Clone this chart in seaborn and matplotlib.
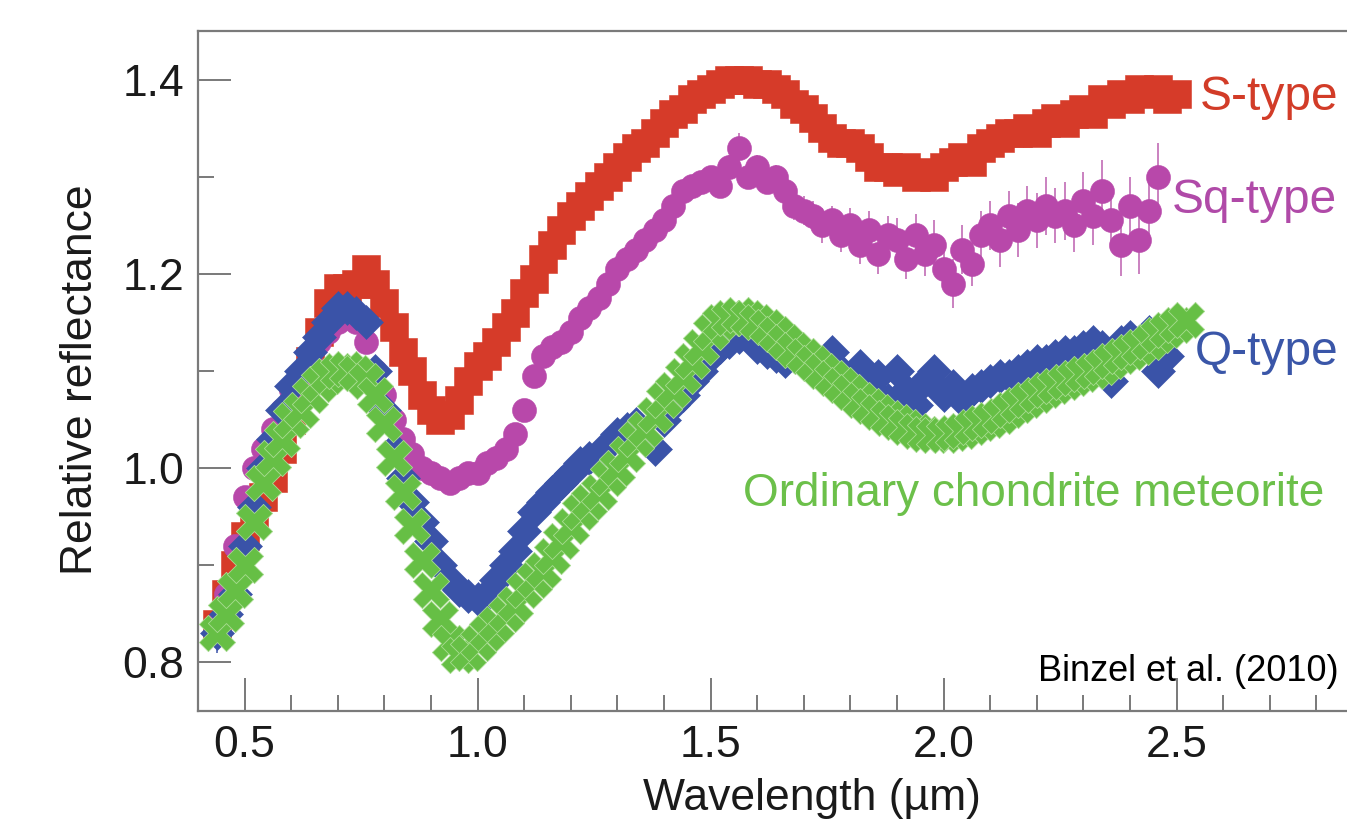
import matplotlib
matplotlib.use("Agg")
import matplotlib.pyplot as plt
import seaborn as sns
import pandas as pd
from matplotlib.ticker import MultipleLocator, FixedLocator

# ---------------- data ----------------
wavelength = [
    0.44, 0.46, 0.48, 0.50, 0.52, 0.54, 0.56, 0.58, 0.60, 0.62,
    0.64, 0.66, 0.68, 0.70, 0.72, 0.74, 0.76, 0.78, 0.80, 0.82,
    0.84, 0.86, 0.88, 0.90, 0.92, 0.94, 0.96, 0.98, 1.00, 1.02,
    1.04, 1.06, 1.08, 1.10, 1.12, 1.14, 1.16, 1.18, 1.20, 1.22,
    1.24, 1.26, 1.28, 1.30, 1.32, 1.34, 1.36, 1.38, 1.40, 1.42,
    1.44, 1.46, 1.48, 1.50, 1.52, 1.54, 1.56, 1.58, 1.60, 1.62,
    1.64, 1.66, 1.68, 1.70, 1.72, 1.74, 1.76, 1.78, 1.80, 1.82,
    1.84, 1.86, 1.88, 1.90, 1.92, 1.94, 1.96, 1.98, 2.00, 2.02,
    2.04, 2.06, 2.08, 2.10, 2.12, 2.14, 2.16, 2.18, 2.20, 2.22,
    2.24, 2.26, 2.28, 2.30, 2.32, 2.34, 2.36, 2.38, 2.40, 2.42,
    2.44, 2.46, 2.48, 2.50, 2.52,
]

s_type = [
    0.84, 0.87, 0.90, 0.93, 0.95, 0.97, 0.99, 1.02, 1.05, 1.08,
    1.11, 1.14, 1.17, 1.185, 1.185, 1.19, 1.205, 1.19, 1.17, 1.145,
    1.12, 1.10, 1.075, 1.06, 1.05, 1.055, 1.07, 1.09, 1.105, 1.115,
    1.13, 1.145, 1.16, 1.18, 1.195, 1.215, 1.23, 1.245, 1.26, 1.27,
    1.28, 1.29, 1.30, 1.31, 1.32, 1.33, 1.335, 1.345, 1.355, 1.365,
    1.37, 1.38, 1.385, 1.39, 1.395, 1.40, 1.40, 1.40, 1.395, 1.395,
    1.39, 1.385, 1.375, 1.37, 1.36, 1.35, 1.34, 1.335, 1.335, 1.33,
    1.32, 1.31, 1.31, 1.305, 1.31, 1.30, 1.305, 1.30, 1.31, 1.315,
    1.32, 1.315, 1.33, 1.335, 1.34, 1.345, 1.345, 1.35, 1.345, 1.355,
    1.36, 1.355, 1.365, 1.37, 1.365, 1.38, 1.375, 1.385, 1.38, 1.39,
    1.385, 1.39, 1.38, 1.385,
]

sq_type = [
    0.84, 0.87, 0.92, 0.97, 1.00, 1.02, 1.04, 1.06, 1.08, 1.09,
    1.11, 1.13, 1.14, 1.15, 1.16, 1.15, 1.13, 1.10, 1.075, 1.05,
    1.03, 1.015, 1.00, 0.995, 0.99, 0.985, 0.99, 0.995, 0.995, 1.005,
    1.01, 1.02, 1.035, 1.06, 1.095, 1.115, 1.125, 1.13, 1.14, 1.155,
    1.165, 1.175, 1.19, 1.205, 1.215, 1.225, 1.235, 1.245, 1.255, 1.27,
    1.285, 1.29, 1.295, 1.30, 1.29, 1.31, 1.33, 1.30, 1.31, 1.295,
    1.30, 1.285, 1.27, 1.265, 1.26, 1.25, 1.255, 1.24, 1.25, 1.23,
    1.245, 1.22, 1.24, 1.235, 1.215, 1.24, 1.22, 1.23, 1.205, 1.19,
    1.225, 1.21, 1.24, 1.25, 1.235, 1.26, 1.245, 1.265, 1.255, 1.27,
    1.26, 1.265, 1.25, 1.275, 1.26, 1.285, 1.255, 1.23, 1.27, 1.235,
    1.265, 1.30,
]

sq_err = [
    0.005, 0.005, 0.005, 0.005, 0.005, 0.005, 0.005, 0.005, 0.005, 0.005,
    0.005, 0.005, 0.005, 0.005, 0.005, 0.005, 0.005, 0.005, 0.005, 0.005,
    0.005, 0.005, 0.005, 0.005, 0.005, 0.005, 0.005, 0.005, 0.005, 0.005,
    0.005, 0.005, 0.005, 0.005, 0.005, 0.005, 0.005, 0.005, 0.005, 0.005,
    0.006, 0.006, 0.006, 0.006, 0.006, 0.006, 0.008, 0.008, 0.008, 0.008,
    0.008, 0.008, 0.010, 0.010, 0.012, 0.012, 0.015, 0.012, 0.012, 0.012,
    0.012, 0.015, 0.015, 0.015, 0.015, 0.018, 0.015, 0.018, 0.018, 0.020,
    0.020, 0.020, 0.020, 0.022, 0.020, 0.022, 0.022, 0.025, 0.022, 0.025,
    0.025, 0.022, 0.025, 0.025, 0.028, 0.025, 0.028, 0.025, 0.028, 0.030,
    0.028, 0.030, 0.028, 0.030, 0.030, 0.032, 0.030, 0.032, 0.030, 0.035,
    0.030, 0.035,
]

q_type = [
    0.83, 0.85, 0.87, 0.92, 0.96, 1.00, 1.03, 1.06, 1.085, 1.10,
    1.12, 1.135, 1.15, 1.165, 1.165, 1.16, 1.15, 1.10, 1.06, 1.02,
    0.99, 0.965, 0.945, 0.925, 0.90, 0.885, 0.875, 0.868, 0.865, 0.870,
    0.885, 0.90, 0.915, 0.935, 0.955, 0.965, 0.975, 0.985, 0.995, 1.005,
    1.01, 1.015, 1.025, 1.035, 1.04, 1.045, 1.03, 1.02, 1.05, 1.065,
    1.075, 1.09, 1.10, 1.115, 1.125, 1.13, 1.135, 1.135, 1.125, 1.12,
    1.115, 1.11, 1.115, 1.12, 1.11, 1.095, 1.12, 1.10, 1.09, 1.105,
    1.085, 1.095, 1.07, 1.10, 1.08, 1.065, 1.09, 1.10, 1.075, 1.085,
    1.07, 1.08, 1.085, 1.09, 1.095, 1.095, 1.10, 1.105, 1.11, 1.11,
    1.115, 1.12, 1.12, 1.125, 1.13, 1.125, 1.09, 1.13, 1.135, 1.13,
    1.14, 1.10, 1.115,
]

q_err = [
    0.020, 0.010, 0.005, 0.005, 0.005, 0.005, 0.005, 0.005, 0.005, 0.005,
    0.005, 0.005, 0.005, 0.005, 0.005, 0.005, 0.005, 0.005, 0.005, 0.005,
    0.005, 0.020, 0.010, 0.010, 0.005, 0.005, 0.005, 0.005, 0.005, 0.005,
    0.005, 0.005, 0.005, 0.005, 0.005, 0.005, 0.005, 0.005, 0.005, 0.005,
    0.005, 0.005, 0.005, 0.005, 0.005, 0.005, 0.005, 0.005, 0.005, 0.005,
    0.005, 0.005, 0.005, 0.005, 0.005, 0.005, 0.005, 0.005, 0.005, 0.008,
    0.008, 0.010, 0.010, 0.012, 0.015, 0.012, 0.015, 0.012, 0.015, 0.012,
    0.015, 0.015, 0.012, 0.015, 0.012, 0.012, 0.010, 0.010, 0.010, 0.010,
    0.008, 0.008, 0.008, 0.008, 0.008, 0.008, 0.008, 0.008, 0.008, 0.008,
    0.008, 0.008, 0.008, 0.008, 0.008, 0.008, 0.010, 0.008, 0.008, 0.008,
    0.010, 0.010, 0.010,
]

chondrite = [
    0.83, 0.85, 0.875, 0.90, 0.945, 0.985, 1.01, 1.03, 1.05, 1.06,
    1.075, 1.087, 1.095, 1.10, 1.102, 1.098, 1.09, 1.075, 1.045, 1.01,
    0.975, 0.94, 0.905, 0.875, 0.845, 0.82, 0.808, 0.81, 0.82, 0.83,
    0.84, 0.85, 0.86, 0.875, 0.885, 0.895, 0.91, 0.925, 0.94, 0.955,
    0.965, 0.975, 0.99, 1.00, 1.015, 1.03, 1.04, 1.055, 1.07, 1.08,
    1.095, 1.11, 1.125, 1.14, 1.15, 1.155, 1.158, 1.155, 1.15, 1.145,
    1.138, 1.13, 1.122, 1.115, 1.108, 1.10, 1.093, 1.086, 1.078, 1.07,
    1.064, 1.058, 1.052, 1.047, 1.042, 1.038, 1.035, 1.034, 1.034, 1.036,
    1.038, 1.042, 1.046, 1.05, 1.054, 1.06, 1.065, 1.07, 1.075, 1.08,
    1.085, 1.089, 1.093, 1.097, 1.10, 1.104, 1.11, 1.115, 1.12, 1.125,
    1.13, 1.137, 1.142, 1.147, 1.152,
]

x_ticks = [0.5, 1.0, 1.5, 2.0, 2.5]
x_tick_labels = ["0.5", "1.0", "1.5", "2.0", "2.5"]
y_ticks = [0.8, 1.0, 1.2, 1.4]
y_tick_labels = ["0.8", "1.0", "1.2", "1.4"]

series_names = ["S-type", "Sq-type", "Q-type", "Ordinary chondrite meteorite"]

# ---------------- style ----------------
sns.set_theme(style="white")
plt.rcParams["font.family"] = ["Liberation Sans", "DejaVu Sans"]

C_RED = "#d63b29"
C_MAG = "#b848aa"
C_BLUE = "#3a53a8"
C_GREEN = "#66bf45"

fig = plt.figure(figsize=(13.47, 8.33), dpi=100)
ax = fig.add_axes([198 / 1347, 1 - 711 / 833, 1165 / 1347, 680 / 833])

df_s = pd.DataFrame({"wl": wavelength[:len(s_type)], "r": s_type})
df_sq = pd.DataFrame({"wl": wavelength[:len(sq_type)], "r": sq_type, "e": sq_err})
df_q = pd.DataFrame({"wl": wavelength[:len(q_type)], "r": q_type, "e": q_err})
df_oc = pd.DataFrame({"wl": wavelength[:len(chondrite)], "r": chondrite})

# S-type: squares
sns.scatterplot(data=df_s, x="wl", y="r", marker="s", s=400, color=C_RED,
                edgecolor=C_RED, linewidth=0.4, ax=ax, zorder=2, legend=False)
# Sq-type: circles with error bars
ax.errorbar(df_sq["wl"], df_sq["r"], yerr=df_sq["e"], fmt="none",
            ecolor="#c677bb", elinewidth=1.3, capsize=0, zorder=2.5)
sns.scatterplot(data=df_sq, x="wl", y="r", marker="o", s=300, color=C_MAG,
                edgecolor=C_MAG, linewidth=0.4, ax=ax, zorder=3, legend=False)
# Q-type: diamonds with error bars
ax.errorbar(df_q["wl"], df_q["r"], yerr=df_q["e"], fmt="none",
            ecolor="#5b6fb8", elinewidth=1.3, capsize=0, zorder=3.5)
sns.scatterplot(data=df_q, x="wl", y="r", marker="D", s=300, color=C_BLUE,
                edgecolor=C_BLUE, linewidth=0.4, ax=ax, zorder=4, legend=False)
# Ordinary chondrite: X markers
sns.scatterplot(data=df_oc, x="wl", y="r", marker="X", s=680, color=C_GREEN,
                edgecolor="#a9dc92", linewidth=0.6, ax=ax, zorder=5, legend=False)

ax.set_xlim(0.4, 2.9)
ax.set_ylim(0.75, 1.45)

ax.xaxis.set_major_locator(FixedLocator(x_ticks))
ax.set_xticklabels(x_tick_labels)
ax.xaxis.set_minor_locator(MultipleLocator(0.1))
ax.yaxis.set_major_locator(FixedLocator(y_ticks))
ax.set_yticklabels(y_tick_labels)
ax.yaxis.set_minor_locator(MultipleLocator(0.1))

ax.tick_params(axis="both", which="major", direction="in", length=24, width=1.1,
               color="#555555", labelsize=32, labelcolor="#1a1a1a", pad=10)
ax.tick_params(axis="both", which="minor", direction="in", length=11.5, width=1.1,
               color="#555555")
ax.tick_params(axis="x", which="both", top=False, bottom=True)
ax.tick_params(axis="y", which="both", left=True, right=False)

for side in ["left", "top", "bottom", "right"]:
    ax.spines[side].set_color("#7a7a7a")
    ax.spines[side].set_linewidth(1.6)
    ax.spines[side].set_visible(True)

ax.set_xlabel("Wavelength (\u00b5m)", fontsize=32, color="#1a1a1a")
ax.set_ylabel("Relative reflectance", fontsize=32, color="#1a1a1a")
ax.xaxis.set_label_coords(0.527, -0.098)
ax.yaxis.set_label_coords(-0.083, 0.487)
ax.xaxis.label.set_va("top")

# Series labels
ax.text(2.549, 1.382, series_names[0], color="#d23c28", fontsize=34.5, va="center", ha="left")
ax.text(2.489, 1.276, series_names[1], color="#b04aa8", fontsize=34.5, va="center", ha="left")
ax.text(2.539, 1.119, series_names[2], color="#3a56a8", fontsize=34.5, va="center", ha="left")
ax.text(1.569, 0.973, series_names[3], color="#6cc04a", fontsize=33, va="center", ha="left")
ax.text(2.202, 0.791, "Binzel et al. (2010)", color="black", fontsize=26, va="center", ha="left")

fig.savefig("out.png", dpi=100)
